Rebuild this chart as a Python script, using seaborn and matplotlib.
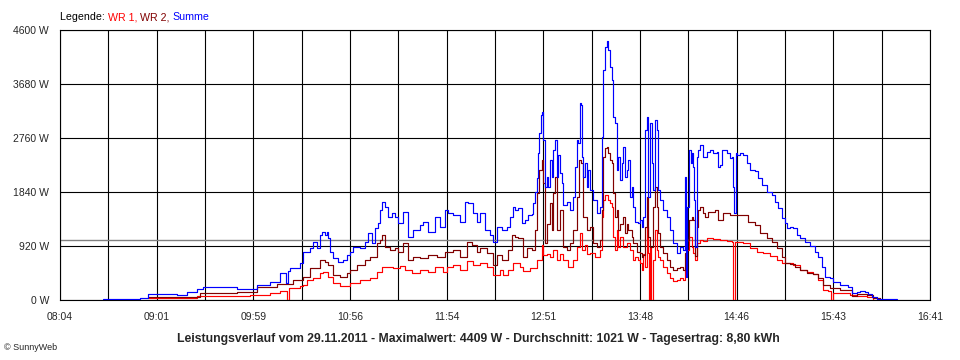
import matplotlib
matplotlib.use("Agg")
import matplotlib.pyplot as plt
from matplotlib import font_manager
from matplotlib.offsetbox import TextArea, HPacker, AnchoredOffsetbox
import pandas as pd
import seaborn as sns

# axis setup (minutes since midnight, 08:04 .. 16:41)
day_start, day_end = 484, 1001
x_ticklabels = ["08:04", "09:01", "09:59", "10:56", "11:54",
                "12:51", "13:48", "14:46", "15:43", "16:41"]
y_ticks = [0, 920, 1840, 2760, 3680, 4600]
average_w = 1021

# Summe (blue): time in minutes since midnight, power in W
sum_min = [509.5, 531.5, 535.7, 536.3, 553.5, 559.4, 565.4, 568.9, 586.8, 589.2,
           598.7, 601.0, 608.8, 614.7, 618.3, 619.5, 620.6, 626.6, 628.4, 632.5,
           634.3, 636.7, 638.5, 639.7, 641.4, 642.6, 643.2, 644.4, 646.2, 649.2,
           652.1, 654.5, 656.3, 658.1, 662.2, 665.2, 667.0, 669.4, 671.2, 672.9,
           674.1, 675.3, 677.1, 678.9, 681.3, 683.0, 684.8, 687.8, 690.8, 693.7,
           697.9, 699.7, 702.7, 706.8, 709.8, 712.8, 714.5, 717.5, 721.7, 724.7,
           726.4, 729.4, 731.8, 733.6, 736.5, 739.5, 741.3, 743.7, 746.6, 749.6,
           751.4, 753.2, 754.4, 756.1, 758.5, 760.3, 762.1, 764.5, 765.1, 766.2,
           767.4, 768.0, 768.6, 769.8, 770.4, 771.0, 772.2, 773.4, 774.0, 775.2,
           776.4, 776.9, 778.1, 779.3, 779.9, 781.1, 782.3, 782.9, 785.3, 787.1,
           788.8, 790.0, 791.2, 791.8, 793.0, 793.6, 794.2, 794.8, 796.0, 797.2,
           797.8, 798.9, 800.7, 803.1, 804.9, 806.1, 806.7, 807.9, 809.0, 809.6,
           810.8, 812.0, 812.6, 813.8, 815.0, 815.6, 816.8, 818.0, 818.5, 819.7,
           820.9, 821.5, 822.7, 823.9, 824.5, 825.7, 827.5, 828.7, 829.8, 830.4,
           831.6, 832.8, 833.4, 834.6, 835.8, 836.4, 837.6, 838.8, 839.4, 840.5,
           842.3, 844.7, 846.5, 848.3, 850.6, 852.4, 854.2, 855.4, 856.0, 856.6,
           857.8, 859.0, 859.6, 860.1, 860.7, 861.3, 862.5, 863.1, 864.3, 866.1,
           868.5, 870.3, 872.0, 874.4, 875.0, 876.2, 877.4, 880.4, 882.1, 883.3,
           883.9, 884.5, 885.1, 885.7, 886.3, 888.1, 889.9, 892.2, 894.0, 897.0,
           898.8, 901.2, 904.1, 907.1, 908.9, 910.7, 913.0, 914.8, 916.0, 917.8,
           919.6, 922.0, 923.7, 926.7, 929.7, 932.7, 934.4, 936.8, 938.6, 941.6,
           943.4, 947.5, 952.3, 954.6, 957.6, 959.4, 962.4, 964.2, 966.5, 969.5,
           981.4]
sum_w = [17, 34, 34, 100, 85, 140, 182, 216, 216, 193,
         193, 256, 312, 455, 284, 500, 545, 625, 823, 880,
         994, 880, 1108, 1164, 1108, 1164, 1051, 823, 710, 653,
         682, 767, 823, 908, 880, 994, 1136, 966, 1221, 1307,
         1534, 1675, 1590, 1420, 1477, 1420, 1307, 1505, 1079, 1193,
         1278, 1335, 1164, 1420, 1250, 1534, 1477, 1448, 1335, 1675,
         1650, 1477, 1335, 1477, 1193, 1108, 994, 1250, 1193, 1250,
         1420, 1590, 1535, 1562, 1307, 1370, 1448, 1460, 1647, 1846,
         2073, 2500, 2840, 3152, 3209, 2726, 1931, 2100, 1931, 2386,
         2100, 2556, 2726, 2100, 2470, 2159, 1990, 1619, 1675, 1534,
         1760, 2272, 2726, 2670, 3352, 3320, 2442, 2101, 2329, 1931,
         2215, 1874, 1704, 1477, 1590, 2783, 3919, 4316, 4409, 4260,
         3976, 3749, 3124, 3010, 2215, 2440, 2045, 2329, 2613, 2100,
         2215, 2386, 1760, 1931, 1590, 1335, 1307, 1363, 1250, 1420,
         2897, 3124, 1760, 3010, 2329, 1874, 3067, 2897, 1874, 1704,
         1534, 1420, 1193, 966, 795, 908, 850, 2101, 398, 1590,
         2556, 2329, 2500, 2272, 1704, 908, 2442, 2556, 2641, 2442,
         2520, 2556, 2500, 2530, 2272, 2300, 2556, 2500, 2414, 2440,
         1931, 1477, 1477, 2500, 2471, 2500, 2471, 2329, 2215, 2200,
         2073, 1960, 1846, 1789, 1675, 1562, 1392, 1307, 1221, 1240,
         1221, 1108, 1051, 994, 920, 823, 738, 568, 398, 370,
         312, 256, 227, 114, 130, 159, 130, 100, 57, 11,
         11]

# WR 2 (dark red)
wr2_min = [536.3, 553.5, 567.2, 589.2, 601.0, 612.9, 622.4, 628.4, 632.5, 636.7,
           638.5, 641.4, 643.2, 646.2, 650.4, 654.5, 656.3, 660.5, 665.2, 668.2,
           672.3, 674.1, 675.3, 677.1, 680.1, 683.0, 684.8, 687.8, 690.8, 693.7,
           697.9, 702.7, 708.0, 712.8, 717.5, 721.7, 725.8, 728.8, 731.8, 733.6,
           737.7, 741.3, 743.7, 746.6, 750.2, 752.6, 754.4, 756.1, 759.1, 761.5,
           764.5, 766.2, 767.4, 768.6, 770.4, 771.0, 772.2, 773.4, 775.2, 776.4,
           776.9, 778.1, 779.3, 781.1, 782.9, 785.3, 787.1, 788.8, 791.2, 792.4,
           793.6, 794.8, 797.2, 798.9, 800.7, 803.1, 804.9, 806.1, 806.7, 807.9,
           809.0, 809.6, 810.8, 812.0, 812.6, 813.8, 815.0, 815.6, 816.8, 818.5,
           819.7, 820.9, 821.5, 823.9, 824.5, 826.9, 828.7, 829.8, 830.4, 831.6,
           832.8, 833.4, 834.6, 836.4, 837.6, 838.8, 839.4, 840.5, 842.3, 844.7,
           846.5, 848.3, 850.6, 852.4, 854.2, 855.4, 856.0, 856.6, 857.8, 859.6,
           860.1, 861.3, 862.5, 863.1, 864.3, 866.1, 867.3, 869.1, 873.2, 875.0,
           878.0, 882.1, 886.3, 889.9, 892.8, 897.0, 900.0, 904.1, 907.1, 910.1,
           913.0, 914.8, 917.8, 920.8, 923.7, 927.9, 931.5, 934.4, 937.4, 941.6,
           947.5, 954.6, 957.6, 963.6, 967.1, 971.3]
wr2_w = [56, 56, 125, 141, 227, 267, 341, 398, 540, 540,
         682, 650, 600, 426, 398, 455, 511, 596, 682, 738,
         966, 1022, 1108, 908, 852, 880, 823, 966, 682, 738,
         710, 767, 740, 823, 852, 738, 994, 940, 823, 880,
         795, 596, 767, 682, 852, 1108, 1080, 1050, 738, 880,
         852, 1193, 1818, 2215, 2386, 2000, 966, 1300, 1647, 1193,
         1818, 2101, 1193, 1534, 908, 852, 966, 1193, 1760, 2386,
         2329, 1420, 1193, 1250, 966, 908, 1022, 1534, 2442, 2585,
         2613, 2500, 2386, 2329, 1818, 1420, 1530, 1193, 1300, 1420,
         1136, 1300, 1193, 1080, 966, 823, 795, 738, 760, 1250,
         1760, 1080, 909, 1590, 1931, 1590, 1136, 908, 795, 682,
         568, 511, 540, 568, 511, 795, 460, 1023, 1363, 1420,
         1363, 750, 1250, 1534, 1590, 1477, 1420, 1500, 1534, 1363,
         1480, 1448, 1448, 1448, 1335, 1278, 1136, 1051, 994, 880,
         738, 625, 620, 568, 511, 455, 440, 370, 256, 199,
         170, 68, 102, 85, 28, 0]

# WR 1 (red)
wr1_min = [536.3, 551.1, 565.4, 596.9, 608.8, 614.7, 618.3, 618.9, 619.5, 620.1,
           626.6, 628.4, 630.7, 634.3, 638.5, 640.3, 643.2, 646.2, 650.4, 656.3,
           662.2, 668.2, 672.3, 675.3, 681.9, 686.0, 689.0, 693.2, 697.9, 702.7,
           706.8, 711.6, 714.0, 717.5, 721.7, 725.8, 729.4, 733.6, 737.7, 741.3,
           745.5, 747.2, 750.2, 753.2, 757.3, 759.1, 763.3, 767.4, 770.4, 771.0,
           773.4, 775.2, 776.9, 779.3, 781.1, 782.9, 785.9, 788.8, 791.2, 793.0,
           794.2, 796.0, 797.2, 798.9, 801.9, 804.9, 806.1, 806.7, 807.9, 809.0,
           809.6, 810.8, 812.0, 812.6, 813.8, 815.0, 815.6, 816.8, 818.5, 820.9,
           822.7, 824.5, 825.7, 827.5, 828.7, 829.8, 830.4, 831.6, 832.8, 833.4,
           834.0, 834.6, 835.2, 835.8, 836.4, 837.6, 838.8, 839.4, 840.5, 842.3,
           844.7, 846.5, 848.3, 850.6, 852.4, 854.2, 855.4, 856.0, 856.6, 857.8,
           859.6, 860.1, 861.3, 862.5, 864.3, 866.1, 868.5, 872.0, 876.2, 880.4,
           883.3, 883.9, 884.5, 885.1, 889.9, 894.0, 898.2, 901.8, 905.9, 910.1,
           913.0, 919.6, 923.7, 927.9, 931.5, 934.4, 937.4, 940.4, 942.2, 942.8,
           943.4, 953.5, 957.6, 963.6, 967.1]
wr1_w = [29, 34, 74, 85, 114, 150, 150, 0, 0, 200,
         240, 260, 341, 370, 455, 483, 398, 284, 238, 284,
         341, 370, 483, 568, 540, 580, 511, 455, 511, 483,
         557, 483, 568, 596, 511, 665, 600, 625, 570, 426,
         511, 426, 511, 625, 570, 500, 540, 682, 937, 760,
         790, 738, 850, 682, 790, 682, 557, 682, 908, 1136,
         852, 937, 790, 800, 738, 852, 1420, 1704, 1789, 1789,
         1704, 1650, 1590, 1079, 852, 1193, 909, 1079, 909, 966,
         852, 682, 740, 682, 625, 511, 790, 568, 1250, 795,
         0, 908, 0, 0, 682, 1193, 852, 738, 682, 568,
         455, 370, 330, 340, 370, 340, 540, 426, 852, 1080,
         909, 795, 682, 966, 1022, 1010, 1051, 1040, 1022, 1010,
         994, 0, 0, 994, 966, 880, 823, 795, 750, 682,
         625, 600, 511, 470, 443, 341, 170, 150, 0, 0,
         114, 85, 60, 45, 0]

title = ("Leistungsverlauf vom 29.11.2011 - Maximalwert: 4409 W - "
         "Durchschnitt: 1021 W - Tagesertrag: 8,80 kWh")

sns.set_style("white")
installed = {f.name for f in font_manager.fontManager.ttflist}
narrow = "Liberation Sans Narrow" if "Liberation Sans Narrow" in installed else "Liberation Sans"
plt.rcParams["font.family"] = ["Liberation Sans", "DejaVu Sans"]

fig = plt.figure(figsize=(9.6, 3.6), dpi=100)
ax = fig.add_axes([60 / 960, 1 - 300 / 360, 870 / 960, 270 / 360])

series = [("WR 1", wr1_min, wr1_w, "#ff0000"),
          ("WR 2", wr2_min, wr2_w, "#800000"),
          ("Summe", sum_min, sum_w, "#0000ff")]
for name, mins, watts, color in series:
    df = pd.DataFrame({"min": mins, "W": watts})
    sns.lineplot(data=df, x="min", y="W", ax=ax, color=color, lw=0.85,
                 drawstyle="steps-post", estimator=None, sort=False, zorder=3)

ax.axhline(average_w, color="#808080", lw=1.0, zorder=2)

# grid: labelled ticks plus an unlabelled line halfway between
step = (day_end - day_start) / 9
ax.set_xticks([day_start + i * step for i in range(10)])
ax.set_xticklabels(x_ticklabels)
ax.set_xticks([day_start + (i + 0.5) * step for i in range(9)], minor=True)
ax.set_yticks(y_ticks)
ax.set_yticklabels([f"{v} W" for v in y_ticks])
ax.set_xlim(day_start, day_end)
ax.set_ylim(0, 4600)
ax.grid(True, which="both", color="black", lw=0.8, zorder=1)
ax.set_axisbelow(True)
ax.tick_params(axis="x", which="both", direction="out", length=5, width=0.8,
               color="black", labelsize=7.5, pad=4)
ax.tick_params(axis="y", direction="out", length=5, width=0.8, color="black",
               labelsize=7.5, pad=3)
for lbl in ax.get_xticklabels():
    lbl.set_fontfamily(narrow)
ax.set_xlabel("")
ax.set_ylabel("")
for sp in ax.spines.values():
    sp.set_color("black")
    sp.set_linewidth(0.8)

# coloured legend line above the plot
parts = [("Legende: ", "black"), ("WR 1, ", "#ff0000"),
         ("WR 2, ", "#800000"), ("Summe", "#0000ff")]
boxes = [TextArea(t, textprops=dict(color=c, size=7.7)) for t, c in parts]
pack = HPacker(children=boxes, align="baseline", pad=0, sep=0)
legend_box = AnchoredOffsetbox(loc="lower left", child=pack, pad=0, borderpad=0,
                               frameon=False, bbox_to_anchor=(60 / 960, 1 - 22 / 360),
                               bbox_transform=fig.transFigure)
fig.add_artist(legend_box)

fig.text(478 / 960, 1 - 339 / 360, title, ha="center", va="center",
         fontsize=8.8, fontweight="bold", family=narrow)
fig.text(4 / 960, 1 - 347 / 360, "\u00a9 SunnyWeb", ha="left", va="center",
         fontsize=6.5)

fig.savefig("out.png", dpi=100)
